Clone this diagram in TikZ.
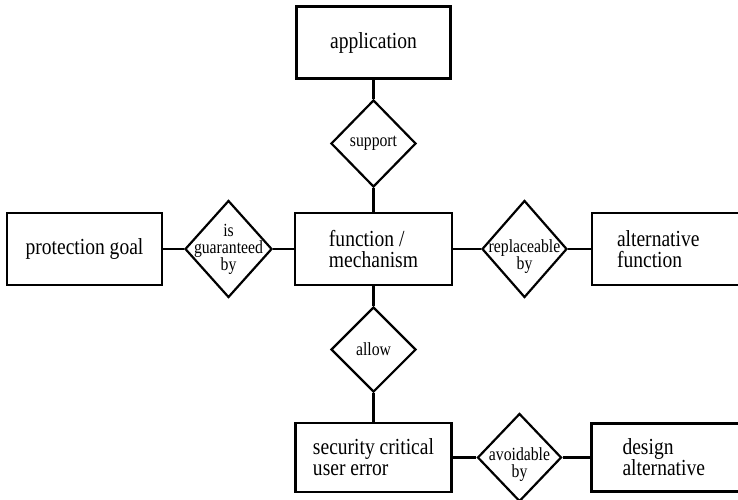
\documentclass[tikz,border=0pt]{standalone}
\usepackage{fontspec}
\setmainfont[FakeStretch=0.85]{Liberation Serif}
\usetikzlibrary{shapes.geometric,positioning}

\begin{document}
\begin{tikzpicture}[x=1pt, y=-1pt, line width=2.2pt, node distance=25pt,
    entity/.style={rectangle, draw, minimum height=72pt, align=left, font=\fontsize{23}{21}\selectfont},
    rel/.style={diamond, draw, minimum width=85pt, minimum height=87pt, inner sep=0pt},
    reltext/.style={align=center, font=\fontsize{18.5}{17}\selectfont}]
    \useasboundingbox (0,0) rectangle (738,499);
    \clip (0,0) rectangle (738,499);
    % middle column
    \node[entity, minimum width=157pt] (func) at (373.5,249) {function /\\mechanism};
    \node[rel, label={[reltext]center:support}] (support) [above=23.8pt of func] {};
    \node[entity, minimum width=154pt] (app) [above=19.3pt of support] {application};
    \node[rel, minimum height=85pt, label={[reltext]center:allow}] (allow) [below=19.8pt of func] {};
    \node[entity, minimum width=156pt, minimum height=69pt] (sec) [below=28.8pt of allow] {security critical\\user error};
    % left side
    \node[rel, minimum width=87pt, minimum height=97pt, label={[reltext]center:is\\guaranteed\\by}] (guar) [left=20.8pt of func] {};
    \node[entity, minimum width=155pt] (goal) [left=20.8pt of guar] {protection goal};
    % right side
    \node[rel, minimum height=97pt, label={[reltext, yshift=-8pt]center:replaceable\\by}] (repl) [right=27.8pt of func] {};
    \node[entity, text width=118pt, inner xsep=25pt] (alt) [right=22.8pt of repl] {alternative\\function};
    \node[rel, minimum width=84pt, minimum height=88pt, label={[reltext, yshift=-7pt]center:avoidable\\by}] (avoid) [right=23.8pt of sec] {};
    \node[entity, text width=106pt, inner xsep=31pt, minimum height=68pt] (design) [right=27.8pt of avoid] {design\\alternative};
    \path
    (app) edge (support)
    (support) edge (func)
    (func) edge (allow)
    (allow) edge (sec)
    (goal) edge (guar)
    (guar) edge (func)
    (func) edge (repl)
    (repl) edge (alt)
    (sec) edge (avoid)
    (avoid) edge (design);
\end{tikzpicture}
\end{document}
